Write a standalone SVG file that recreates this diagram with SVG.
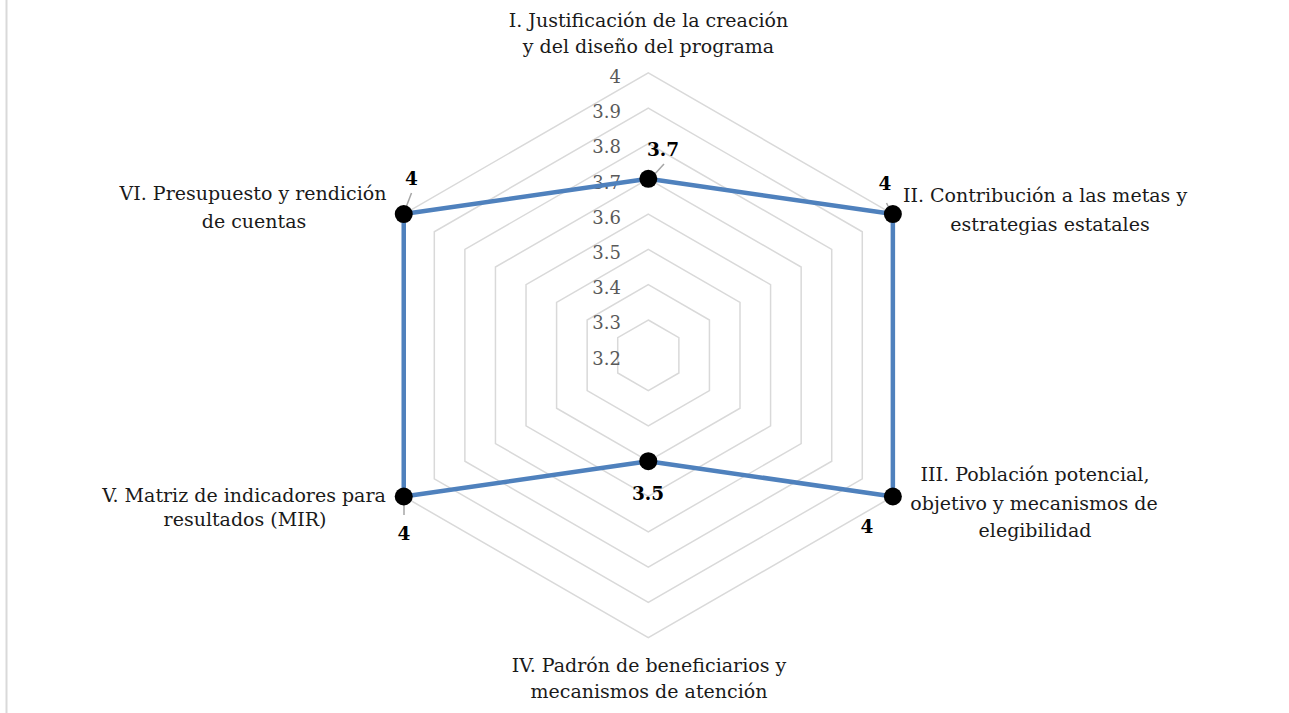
<svg xmlns="http://www.w3.org/2000/svg" width="1289" height="713" viewBox="0 0 1289 713">
<style>
.ring{fill:none;stroke:#d9d9d9;stroke-width:1.5}
.tick{font-family:"DejaVu Serif","Liberation Serif",serif;font-size:18px;fill:#595959;text-anchor:end}
.cat{font-family:"DejaVu Serif","Liberation Serif",serif;font-size:19px;fill:#1a1a1a;text-anchor:middle}
.val{font-family:"DejaVu Serif","Liberation Serif",serif;font-size:18.5px;font-weight:bold;fill:#000;text-anchor:middle}
.series{fill:none;stroke:#4f81bd;stroke-width:4.5;stroke-linejoin:round}
.lead{stroke:#a6a6a6;stroke-width:1.5}
.mk{fill:#000}
</style>
<rect x="0" y="0" width="1289" height="713" fill="#fff"/>
<line x1="6.5" y1="0" x2="6.5" y2="713" stroke="#d9d9d9" stroke-width="2"/>
<g id="grid">
<polygon class="ring" points="648.3,320 678.87,337.65 678.87,372.95 648.3,390.6 617.73,372.95 617.73,337.65"/>
<polygon class="ring" points="648.3,284.7 709.44,320 709.44,390.6 648.3,425.9 587.16,390.6 587.16,320"/>
<polygon class="ring" points="648.3,249.4 740.01,302.35 740.01,408.25 648.3,461.2 556.59,408.25 556.59,302.35"/>
<polygon class="ring" points="648.3,214.1 770.58,284.7 770.58,425.9 648.3,496.5 526.02,425.9 526.02,284.7"/>
<polygon class="ring" points="648.3,178.8 801.15,267.05 801.15,443.55 648.3,531.8 495.45,443.55 495.45,267.05"/>
<polygon class="ring" points="648.3,143.5 831.72,249.4 831.72,461.2 648.3,567.1 464.88,461.2 464.88,249.4"/>
<polygon class="ring" points="648.3,108.2 862.29,231.75 862.29,478.85 648.3,602.4 434.31,478.85 434.31,231.75"/>
<polygon class="ring" points="648.3,72.9 892.86,214.1 892.86,496.5 648.3,637.7 403.74,496.5 403.74,214.1"/>
</g>
<g id="ticks">
<text class="tick" x="621" y="83">4</text>
<text class="tick" x="621" y="118">3.9</text>
<text class="tick" x="621" y="153">3.8</text>
<text class="tick" x="621" y="188.5">3.7</text>
<text class="tick" x="621" y="223.5">3.6</text>
<text class="tick" x="621" y="258.5">3.5</text>
<text class="tick" x="621" y="294">3.4</text>
<text class="tick" x="621" y="329">3.3</text>
<text class="tick" x="621" y="364.5">3.2</text>
</g>
<g id="connectors">
<polygon class="series" points="648.3,178.8 892.86,214.1 892.86,496.5 648.3,461.2 403.74,496.5 403.74,214.1"/>
<line class="lead" x1="664" y1="164" x2="653" y2="176"/>
<line class="lead" x1="886.5" y1="203" x2="891" y2="212"/>
<line class="lead" x1="411.5" y1="193" x2="405" y2="210"/>
<line class="lead" x1="404" y1="500" x2="404" y2="515"/>
</g>
<g id="node-I">
<circle class="mk" cx="648.3" cy="178.8" r="9"/>
<text class="val" x="663" y="156">3.7</text>
<text class="cat" x="648.5" y="26.7">I. Justificación de la creación</text>
<text class="cat" x="648.5" y="53.3">y del diseño del programa</text>
</g>
<g id="node-II">
<circle class="mk" cx="892.86" cy="214.1" r="9"/>
<text class="val" x="885" y="190">4</text>
<text class="cat" x="1045" y="202">II. Contribución a las metas y</text>
<text class="cat" x="1050" y="230.5">estrategias estatales</text>
</g>
<g id="node-III">
<circle class="mk" cx="892.86" cy="496.5" r="9"/>
<text class="val" x="867" y="533">4</text>
<text class="cat" x="1035" y="481">III. Población potencial,</text>
<text class="cat" x="1034" y="510">objetivo y mecanismos de</text>
<text class="cat" x="1035" y="536.7">elegibilidad</text>
</g>
<g id="node-IV">
<circle class="mk" cx="648.3" cy="461.2" r="9"/>
<text class="val" x="648" y="500">3.5</text>
<text class="cat" x="649" y="671.7">IV. Padrón de beneficiarios y</text>
<text class="cat" x="649" y="698.3">mecanismos de atención</text>
</g>
<g id="node-V">
<circle class="mk" cx="403.74" cy="496.5" r="9"/>
<text class="val" x="404" y="540">4</text>
<text class="cat" x="244" y="501.7">V. Matriz de indicadores para</text>
<text class="cat" x="245" y="526">resultados (MIR)</text>
</g>
<g id="node-VI">
<circle class="mk" cx="403.74" cy="214.1" r="9"/>
<text class="val" x="411.5" y="185">4</text>
<text class="cat" x="253" y="200">VI. Presupuesto y rendición</text>
<text class="cat" x="254" y="228.3">de cuentas</text>
</g>
</svg>
